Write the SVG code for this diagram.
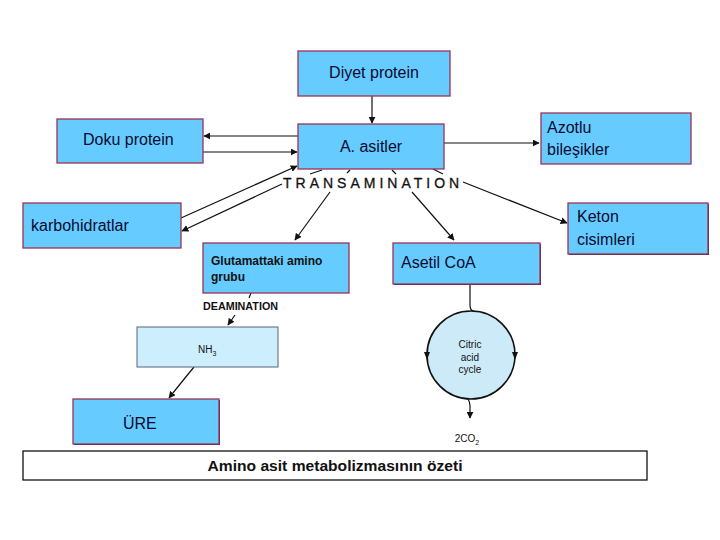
<svg xmlns="http://www.w3.org/2000/svg" width="720" height="540" viewBox="0 0 720 540">
<style>
.box{fill:#66ccff;stroke:#993355;stroke-width:1.3}
.lbox{fill:#cdeefc;stroke:#556677;stroke-width:1}
.shd{fill:#333344}
.t{font-family:"Liberation Sans",Arial,sans-serif;font-size:16px;fill:#0a0a30}
.s{font-family:"Liberation Sans",Arial,sans-serif;font-size:10px;fill:#111}
.b{font-family:"Liberation Sans",Arial,sans-serif;font-weight:bold;fill:#111}
.ln{stroke:#111;stroke-width:1.2;fill:none}
</style>
<defs>
<marker id="ah" viewBox="0 0 10 10" refX="9" refY="5" markerWidth="7" markerHeight="7" markerUnits="userSpaceOnUse" orient="auto">
<path d="M0,0 L10,5 L0,10 z" fill="#111"/>
</marker>
</defs>
<rect width="720" height="540" fill="#fff"/>

<g id="connectors">
<line class="ln" x1="372" y1="96" x2="372" y2="123" marker-end="url(#ah)"/>
<line class="ln" x1="298" y1="136" x2="204" y2="136" marker-end="url(#ah)"/>
<line class="ln" x1="203" y1="152" x2="297" y2="152" marker-end="url(#ah)"/>
<line class="ln" x1="444" y1="143" x2="539" y2="143" marker-end="url(#ah)"/>
<line class="ln" x1="181" y1="218" x2="297" y2="166" marker-end="url(#ah)"/>
<line class="ln" x1="282" y1="184" x2="182" y2="231" marker-end="url(#ah)"/>
<line class="ln" x1="322" y1="170" x2="310" y2="174"/>
<line class="ln" x1="347" y1="173" x2="350" y2="170"/>
<line class="ln" x1="392" y1="170" x2="396" y2="174"/>
<line class="ln" x1="433" y1="169" x2="443" y2="174"/>
<line class="ln" x1="463" y1="182" x2="567" y2="223" marker-end="url(#ah)"/>
<line class="ln" x1="330" y1="192" x2="295" y2="240" marker-end="url(#ah)"/>
<line class="ln" x1="412" y1="192" x2="454" y2="240" marker-end="url(#ah)"/>
<line class="ln" x1="251" y1="293" x2="249" y2="298"/>
<line class="ln" x1="235" y1="315" x2="228" y2="325" marker-end="url(#ah)"/>
<path class="ln" d="M194,367 Q180,384 169,398" marker-end="url(#ah)"/>
<path class="ln" d="M470,285 L470,305 Q470,311 474,311" stroke-width="1.5"/>
<path class="ln" d="M468,399 Q470,402 470,406 L470,418" marker-end="url(#ah)"/>
</g>

<g id="diyet"><rect class="box" x="298" y="51" width="152" height="45"/><text class="t" x="374" y="78" text-anchor="middle">Diyet protein</text></g>
<g id="asitler"><rect class="box" x="298" y="124" width="146" height="45"/><text class="t" x="371" y="152" text-anchor="middle">A. asitler</text></g>
<g id="doku"><rect class="box" x="57" y="119" width="146" height="44"/><text class="t" x="83" y="145">Doku protein</text></g>
<g id="azotlu"><rect class="box" x="541" y="113" width="150" height="51"/><text class="t" x="547" y="133">Azotlu</text><text class="t" x="547" y="155">bileşikler</text></g>
<g id="keton"><rect class="shd" x="569" y="204" width="140" height="51"/><rect class="box" x="568" y="203" width="140" height="51"/><text class="t" x="577" y="222">Keton</text><text class="t" x="577" y="245">cisimleri</text></g>
<g id="karbo"><rect class="box" x="23" y="203" width="158" height="45"/><text class="t" x="31" y="231">karbohidratlar</text></g>
<g id="transamination"><text x="283" y="188" font-family="Liberation Sans, Arial, sans-serif" font-size="14" fill="#111" stroke="#111" stroke-width="0.3" letter-spacing="4">TRANSAMINATION</text></g>
<g id="glutamat"><rect class="box" x="203" y="243" width="146" height="50"/><text class="b" x="211" y="265" font-size="12">Glutamattaki amino</text><text class="b" x="211" y="281" font-size="12">grubu</text></g>
<g id="asetil"><rect class="shd" x="394" y="244" width="147" height="41"/><rect class="box" x="393" y="243" width="147" height="41"/><text class="t" x="401" y="268">Asetil CoA</text></g>
<g id="deamination"><text class="b" x="203" y="310" font-size="11" textLength="75" lengthAdjust="spacingAndGlyphs">DEAMINATION</text></g>
<g id="nh3"><rect class="lbox" x="137" y="327" width="141" height="40"/><text class="s" x="198" y="353">NH<tspan font-size="7" dy="3">3</tspan></text></g>
<g id="ure"><rect class="shd" x="74" y="400" width="146" height="45"/><rect class="box" x="73" y="399" width="146" height="45"/><text class="t" x="123" y="429">ÜRE</text></g>
<g id="citric">
<circle cx="471" cy="355" r="44" fill="#cdeaf8" stroke="#111" stroke-width="1.6"/>
<path d="M424,352 L430,352 L427,360 z" fill="#111"/>
<path d="M512,352 L518,352 L515,360 z" fill="#111"/>
<text class="s" x="470" y="348" text-anchor="middle">Citric</text>
<text class="s" x="470" y="361" text-anchor="middle">acid</text>
<text class="s" x="470" y="373" text-anchor="middle">cycle</text>
</g>
<g id="co2"><text class="s" x="467" y="442" text-anchor="middle" font-size="11">2CO<tspan font-size="7" dy="3">2</tspan></text></g>
<g id="caption"><rect x="23" y="451" width="624" height="29" fill="#fff" stroke="#111" stroke-width="1.3"/><text class="b" x="335" y="471" font-size="15" text-anchor="middle" textLength="255" lengthAdjust="spacingAndGlyphs">Amino asit metabolizmasının özeti</text></g>
</svg>
